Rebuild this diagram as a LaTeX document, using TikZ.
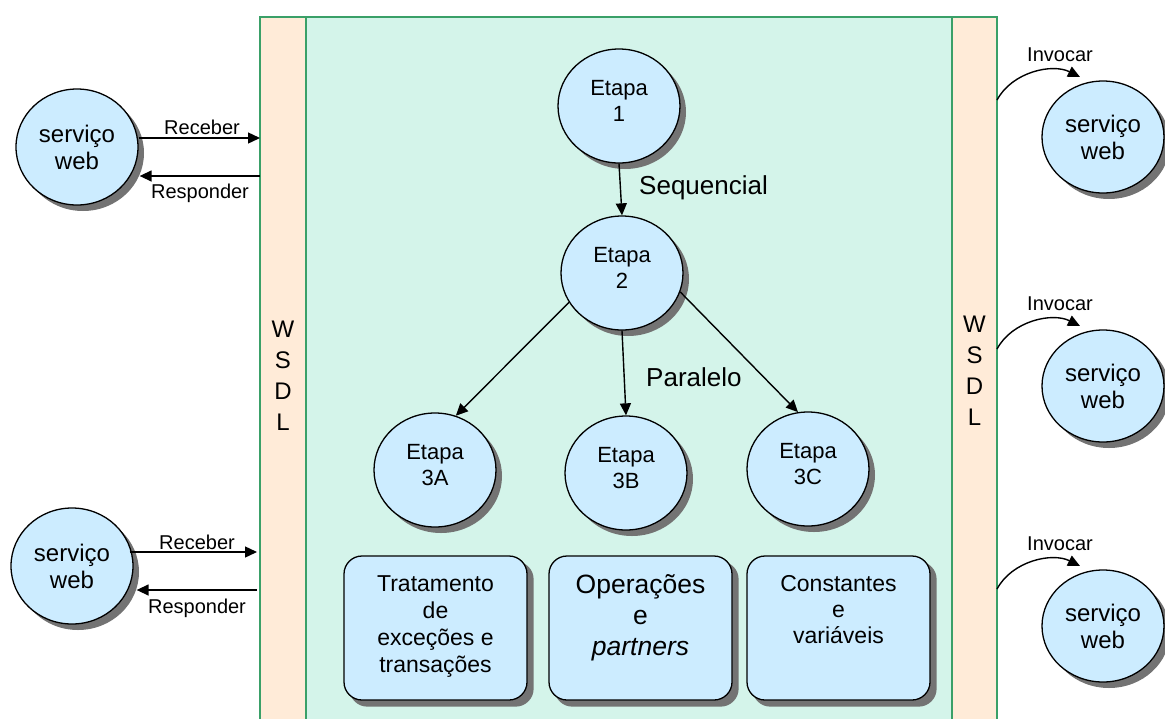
\documentclass[tikz,border=0pt]{standalone}
\usepackage{fontspec}
\setmainfont{Liberation Sans}
\usetikzlibrary{shapes.geometric,arrows.meta,calc}
\definecolor{stepblue}{RGB}{204,236,255}
\definecolor{mintbg}{RGB}{212,244,234}
\definecolor{peachbar}{RGB}{255,235,216}
\definecolor{framegreen}{RGB}{58,160,104}
\definecolor{shadowgrey}{RGB}{115,115,115}
\pgfdeclarelayer{framelayer}
\pgfdeclarelayer{shadowlayer}
\pgfsetlayers{framelayer,shadowlayer,main}

\begin{document}
\begin{tikzpicture}[x=1pt,y=-1pt,
  bubble/.style={ellipse,draw=black,line width=1.3pt,fill=stepblue,
    minimum width=122pt,minimum height=114pt,inner sep=0pt,align=center},
  stepnode/.style={bubble},
  steptext/.style={inner sep=0pt,align=center,font=\fontsize{22}{26}\selectfont},
  svcnode/.style={bubble,minimum width=122pt,minimum height=116pt,font=\fontsize{24}{27}\selectfont},
  infobox/.style={rectangle,rounded corners=18pt,draw=black,line width=1.3pt,fill=stepblue,
    minimum width=183pt,minimum height=144pt},
  boxtext/.style={anchor=north,inner sep=0pt,align=center},
  conn/.style={line width=1.4pt,-{Triangle[length=12pt,width=11pt]}},
  lbl/.style={inner sep=0pt,font=\fontsize{20}{24}\selectfont},
  biglbl/.style={inner sep=0pt,anchor=west,font=\fontsize{26}{30}\selectfont},
  wsdl/.style={inner sep=0pt,align=center,font=\fontsize{24}{31}\selectfont},
  frameline/.style={draw=framegreen,line width=2.4pt},
  shadowfill/.style={fill=shadowgrey}
]
\useasboundingbox (0,0) rectangle (1165,718);

% orchestration frame: two WSDL bars around the process area
\begin{pgfonlayer}{framelayer}
\fill[peachbar] (260,17) rectangle (306,740);
\fill[mintbg] (306,17) rectangle (952,740);
\fill[peachbar] (952,17) rectangle (997,740);
\draw[frameline] (260,740) -- (260,17) -- (997,17) -- (997,740);
\draw[frameline] (306,17) -- (306,740);
\draw[frameline] (952,17) -- (952,740);
\end{pgfonlayer}

\node[wsdl] (wl) at (283,376) {W\\S\\D\\L};
\node[wsdl] (wr) at (974.5,371) {W\\S\\D\\L};

% process steps
\node[stepnode] (e1) at (619,106) {};
\node[stepnode] (e2) at (622,273) {};
\node[stepnode] (e3a) at (435,470) {};
\node[stepnode] (e3b) at (626,473) {};
\node[stepnode] (e3c) at (808,469) {};
\node[steptext] (e1t) at ($(e1.center)+(0,-5)$) {Etapa\\1};
\node[steptext] (e2t) at ($(e2.center)+(0,-5)$) {Etapa\\2};
\node[steptext] (e3at) at ($(e3a.center)+(0,-5)$) {Etapa\\3A};
\node[steptext] (e3bt) at ($(e3b.center)+(0,-5)$) {Etapa\\3B};
\node[steptext] (e3ct) at ($(e3c.center)+(0,-5)$) {Etapa\\3C};

\draw[conn] (e1.south) -- (e2.north);
\node[biglbl] (seq) at (639,188) {Sequencial};
\draw[conn] (e2.209) -- (e3a.69);
\draw[conn] (e2.south) -- (e3b.north);
\draw[conn] (e2.342) -- (e3c.100);
\node[biglbl] (par) at (646,377) {Paralelo};

% process definitions
\node[infobox] (b1) at (435.5,628) {};
\node[infobox] (b2) at (640.5,628) {};
\node[infobox] (b3) at (838.5,628) {};
\node[boxtext,font=\fontsize{23}{27}\selectfont] (t1) at ($(b1.north)+(0,20)$)
  {Tratamento\\de\\exceções e\\transações};
\node[boxtext,font=\fontsize{26.5}{31}\selectfont] (t2) at ($(b2.north)+(0,19)$)
  {Operações\\e\\\textit{partners}};
\node[boxtext,font=\fontsize{23}{26}\selectfont] (t3) at ($(b3.north)+(0,20)$)
  {Constantes\\e\\variáveis};

% client services on the left
\node[svcnode] (sl1) at (77,147) {serviço\\web};
\node[svcnode] (sl2) at (72,566) {serviço\\web};

\coordinate (rc1) at (260,138);
\coordinate (rs1) at (260,176);
\coordinate (rc2) at (257,552);
\coordinate (rs2) at (257,590);

\draw[conn] (sl1.east |- rc1) -- (rc1);
\draw[conn] (rs1) -- ($(sl1.east |- rs1)+(1,0)$);
\draw[conn] ($(sl2.east |- rc2)+(-4,0)$) -- (rc2);
\draw[conn] (rs2) -- ($(sl2.east |- rs2)+(3,0)$);

\node[lbl] (lrc1) at (202,127) {Receber};
\node[lbl] (lrs1) at (200,193) {Responder};
\node[lbl] (lrc2) at (197,542) {Receber};
\node[lbl] (lrs2) at (197,608) {Responder};

% invoked partner services on the right
\foreach \nm/\cy in {sr1/137,sr2/386,sr3/626}{
  \node[svcnode,minimum height=112pt] (\nm) at (1103,\cy) {serviço\\web};
  \coordinate (\nm s) at (997,\cy-37);
  \coordinate (\nm t) at ($(\nm.center)+(-23,-60)$);
  \draw[line width=1.4pt,-{Triangle[length=12pt,width=11pt]}]
    (\nm s) .. controls ($(\nm s)+(15,-28)$) and ($(\nm t)+(-28,-14)$) .. (\nm t);
  \node[lbl] (\nm l) at ($(\nm.center)+(-43,-82)$) {Invocar};
}

% drop shadows, offset down and to the right
\begin{pgfonlayer}{shadowlayer}
\foreach \nd/\ry in {e1/57,e2/57,e3a/57,e3b/57,e3c/57,sl1/58,sl2/58,sr1/56,sr2/56,sr3/56}{
  \fill[shadowfill] ($(\nd.center)+(6,6)$) ellipse [x radius=61pt, y radius=\ry pt];
}
\foreach \nd in {b1,b2,b3}{
  \fill[shadowfill,rounded corners=18pt] ($(\nd.south west)+(6,6)$) rectangle ($(\nd.north east)+(6,6)$);
}
\end{pgfonlayer}
\end{tikzpicture}
\end{document}
